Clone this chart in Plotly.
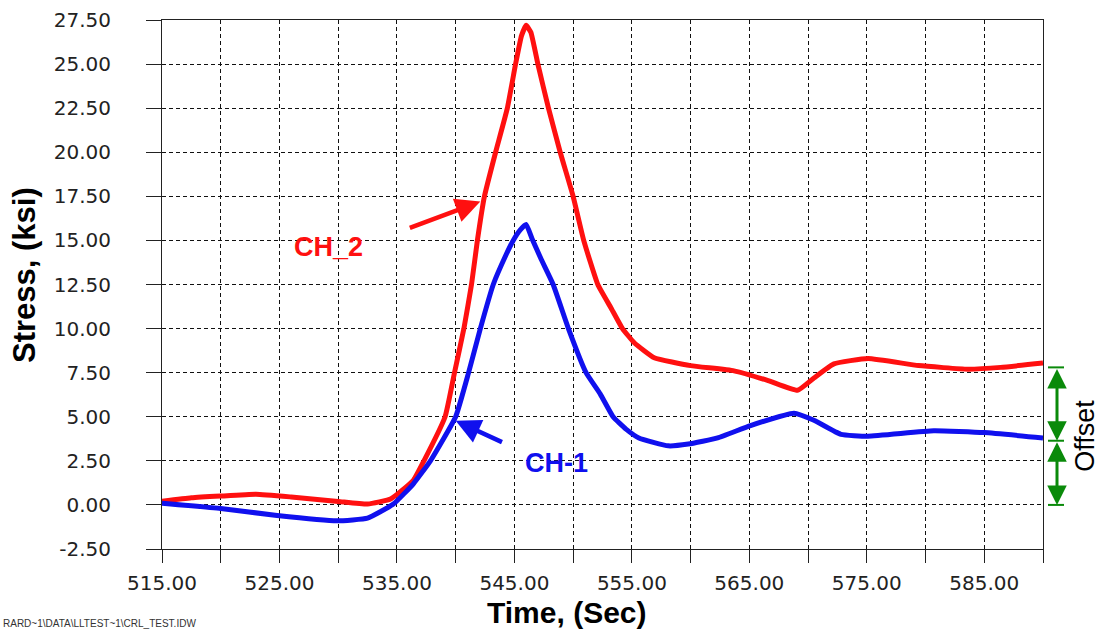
import plotly.graph_objects as go

# ---- data ----
ch2_time = [515, 517.5, 520, 523, 526, 530, 532.5, 534.5, 536.4, 537.3, 539.1, 539.9,
            540.7, 541.35, 541.85, 542.45, 543.4, 544.4, 545.1, 545.6, 546.0, 546.4, 547.0,
            547.9, 548.9, 550.0, 550.9, 552.1, 553.2, 554.2, 555.2, 556.9, 560.0, 563.7,
            566.6, 569.1, 570.5, 572.2, 575.1, 579.4, 583.6, 586.4, 590]
ch2_stress = [0.2, 0.4, 0.5, 0.6, 0.45, 0.2, 0.05, 0.35, 1.4, 2.5, 5.0, 7.5,
              10.0, 12.5, 15.0, 17.5, 20.0, 22.5, 25.0, 26.6, 27.2, 26.8, 25.0,
              22.5, 20.0, 17.5, 15.0, 12.5, 11.2, 10.0, 9.2, 8.35, 7.9, 7.6,
              7.05, 6.5, 7.2, 8.0, 8.3, 7.9, 7.7, 7.8, 8.05]

ch1_time = [515, 520, 524.8, 529.9, 532.5, 534.7, 536.4, 537.85, 540.0, 541.1, 542.1,
            543.2, 544.3, 544.9, 545.5, 546.0, 546.5, 547.3, 548.3, 549.6, 551.1, 552.3,
            553.4, 554.5, 555.6, 558.1, 559.8, 562.3, 565.1, 568.8, 570.5, 572.8, 575.1,
            580.7, 585.0, 590]
ch1_stress = [0.1, -0.2, -0.6, -0.9, -0.75, 0.05, 1.2, 2.5, 5.0, 7.5, 10.0,
              12.5, 14.2, 15.0, 15.6, 15.9, 15.1, 13.9, 12.5, 10.0, 7.5, 6.3,
              5.0, 4.3, 3.8, 3.35, 3.45, 3.8, 4.5, 5.2, 4.8, 4.0, 3.9,
              4.2, 4.1, 3.8]

x_tickvals = [515, 520, 525, 530, 535, 540, 545, 550, 555, 560, 565, 570, 575, 580, 585, 590]
x_ticktext = ["515.00", "", "525.00", "", "535.00", "", "545.00", "", "555.00", "",
              "565.00", "", "575.00", "", "585.00", ""]
y_tickvals = [-2.5, 0, 2.5, 5, 7.5, 10, 12.5, 15, 17.5, 20, 22.5, 25, 27.5]
y_ticktext = ["-2.50", "0.00", "2.50", "5.00", "7.50", "10.00", "12.50", "15.00",
              "17.50", "20.00", "22.50", "25.00", "27.50"]

offset_top = 7.8
offset_mid = 3.64
offset_bottom = 0.0

RED = "#ff1010"
BLUE = "#1010ee"
GREEN = "#0a8a0a"

fig = go.Figure()
fig.add_trace(go.Scatter(x=ch2_time, y=ch2_stress, mode="lines", name="CH_2",
                         line=dict(color=RED, width=5, shape="spline", smoothing=0.4)))
fig.add_trace(go.Scatter(x=ch1_time, y=ch1_stress, mode="lines", name="CH-1",
                         line=dict(color=BLUE, width=5, shape="spline", smoothing=0.4)))

tickfont = dict(family="DejaVu Sans", size=20, color="#222")
fig.update_xaxes(range=[515, 590], tickmode="array", tickvals=x_tickvals, ticktext=x_ticktext,
                 showgrid=True, gridcolor="#111", gridwidth=1, griddash="4px,3px",
                 showline=True, linecolor="#222", linewidth=1, mirror=True,
                 ticks="outside", ticklen=13, tickcolor="#222", tickfont=tickfont,
                 ticklabelstandoff=3, zeroline=False, automargin=False)
fig.update_yaxes(range=[-2.5, 27.5], tickmode="array", tickvals=y_tickvals, ticktext=y_ticktext,
                 showgrid=True, gridcolor="#111", gridwidth=1, griddash="4px,3px",
                 showline=True, linecolor="#222", linewidth=1, mirror=True,
                 ticks="outside", ticklen=15, tickcolor="#222", tickfont=tickfont,
                 ticklabelstandoff=31, zeroline=False, automargin=False)

ann = []
# axis titles
ann.append(dict(text="<b>Time, (Sec)</b>", xref="paper", yref="paper",
                x=(567 - 162) / 881, y=(549 - 612) / 529, xanchor="center", yanchor="middle",
                showarrow=False, font=dict(family="Liberation Sans", size=30, color="black")))
ann.append(dict(text="<b>Stress, (ksi)</b>", xref="paper", yref="paper", textangle=-90,
                x=(24 - 162) / 881, y=(549 - 275) / 529, xanchor="center", yanchor="middle",
                showarrow=False, font=dict(family="Liberation Sans", size=31, color="black")))
# channel labels
ann.append(dict(text="<b>CH_2</b>", x=529.15, y=14.6, showarrow=False,
                font=dict(family="Liberation Sans", size=27, color=RED)))
ann.append(dict(text="<b>CH-1</b>", x=548.6, y=2.39, showarrow=False,
                font=dict(family="Liberation Sans", size=27, color=BLUE)))
# pointer arrows
ann.append(dict(text="", x=542.1, y=17.2, ax=535.97, ay=15.68, axref="x", ayref="y",
                showarrow=True, arrowhead=2, arrowsize=1.1, arrowwidth=4.5, arrowcolor=RED))
ann.append(dict(text="", x=540.0, y=4.77, ax=544.07, ay=3.52, axref="x", ayref="y",
                showarrow=True, arrowhead=2, arrowsize=1.1, arrowwidth=4.5, arrowcolor=BLUE))
# offset double arrows
xa = (1057 - 162) / 881
ann.append(dict(text="", xref="paper", yref="y", x=xa, y=offset_mid, ax=0, ay=offset_top,
                ayref="y", showarrow=True, arrowhead=2, startarrowhead=2, arrowside="end+start",
                arrowsize=1.3, startarrowsize=1.3, arrowwidth=3, arrowcolor=GREEN))
ann.append(dict(text="", xref="paper", yref="y", x=xa, y=offset_bottom, ax=0, ay=offset_mid,
                ayref="y", showarrow=True, arrowhead=2, startarrowhead=2, arrowside="end+start",
                arrowsize=1.3, startarrowsize=1.3, arrowwidth=3, arrowcolor=GREEN))
ann.append(dict(text="Offset", xref="paper", yref="y", textangle=-90,
                x=(1085 - 162) / 881, y=(504 - 435) / 17.6, xanchor="center", yanchor="middle",
                showarrow=False, font=dict(family="Liberation Sans", size=27, color="black")))
# file path footer
ann.append(dict(text="RARD~1\\DATA\\LLTEST~1\\CRL_TEST.IDW", xref="paper", yref="paper",
                x=(1 - 162) / 881, y=(549 - 631) / 529, xanchor="left", yanchor="bottom",
                showarrow=False, font=dict(family="Liberation Sans", size=10, color="#333")))

shapes = []
x0c = (1048 - 162) / 881
x1c = (1064 - 162) / 881
for yv in [offset_top, offset_mid, offset_bottom]:
    shapes.append(dict(type="line", xref="paper", yref="y", x0=x0c, x1=x1c, y0=yv, y1=yv,
                       line=dict(color=GREEN, width=2)))

fig.update_layout(width=1104, height=632, margin=dict(l=162, r=61, t=20, b=83),
                  plot_bgcolor="white", paper_bgcolor="white", showlegend=False,
                  annotations=ann, shapes=shapes)

fig.write_html("out.html", config={"displayModeBar": False},
               post_script="document.body.style.margin='0';document.body.style.padding='0';"
                           "document.body.style.overflow='hidden';")
